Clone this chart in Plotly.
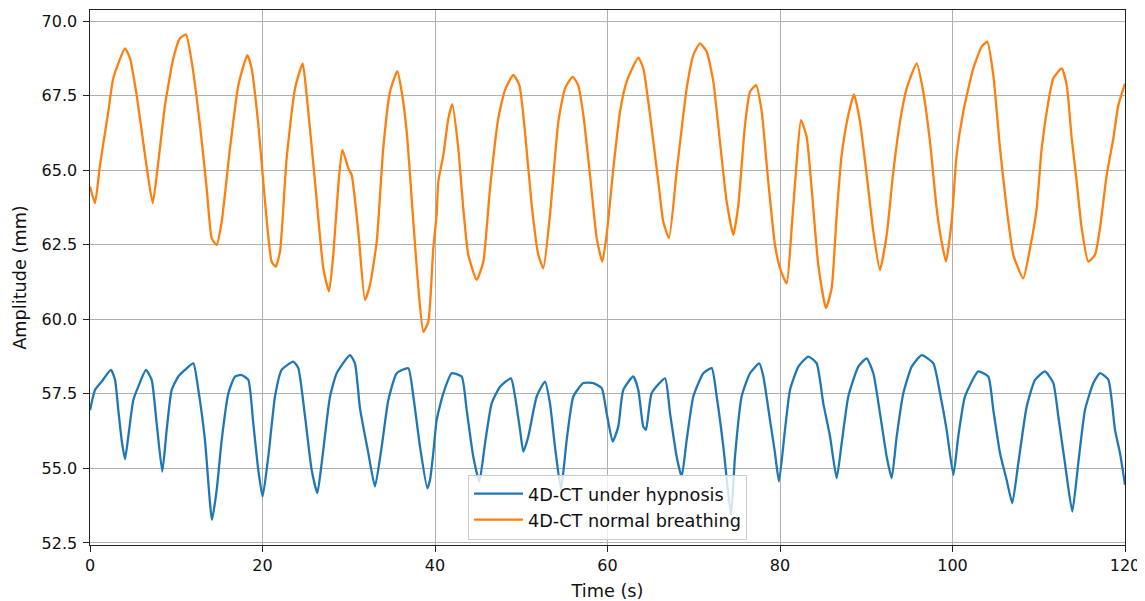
import plotly.graph_objects as go

# 4D-CT under hypnosis (blue) – key points
t_hyp = [0.0, 0.58, 1.35, 2.43, 2.9, 3.28, 3.67, 4.06, 4.44, 5.02, 5.6, 6.49, 7.15, 7.73, 8.38,
         8.89, 9.47, 10.24, 11.01, 11.98, 12.56, 13.33, 14.14, 14.69, 15.27, 16.04, 16.81, 17.59,
         18.35, 18.93, 19.51, 20.01, 20.67, 21.45, 22.22, 23.57, 24.15, 24.93, 25.7, 26.36, 26.86,
         27.83, 28.6, 30.14, 30.72, 31.3, 32.27, 33.04, 33.82, 34.59, 35.56, 36.9, 37.49, 38.26,
         39.11, 39.42, 39.8, 40.19, 40.97, 41.93, 43.09, 43.67, 44.44, 45.14, 45.8, 46.57, 47.54,
         48.81, 49.28, 49.86, 50.24, 50.82, 51.79, 52.75, 53.33, 53.91, 54.61, 55.27, 56.04, 57.2,
         58.36, 59.33, 59.9, 60.6, 61.25, 61.83, 62.99, 63.57, 64.15, 64.46, 65.12, 66.67, 67.25,
         68.02, 68.6, 69.18, 69.95, 71.11, 72.08, 72.66, 73.43, 74.32, 74.78, 75.55, 76.52, 77.6,
         78.07, 78.84, 79.42, 79.88, 80.58, 81.16, 82.13, 83.28, 84.25, 85.02, 85.8, 86.57, 87.15,
         87.92, 89.08, 90.05, 90.82, 91.59, 92.37, 92.95, 93.53, 94.3, 95.27, 96.43, 97.78, 98.55,
         99.32, 100.1, 100.67, 101.45, 102.99, 104.15, 104.73, 105.51, 106.28, 106.93, 107.63,
         108.6, 109.57, 110.72, 111.69, 112.27, 113.04, 113.89, 114.58, 115.36, 116.33, 117.1,
         118.07, 118.84, 119.42, 120.0]
v_hyp = [56.95, 57.63, 57.91, 58.3, 57.97, 56.96, 55.95, 55.31, 56.07, 57.29, 57.74, 58.3, 57.97,
         56.51, 54.89, 56.29, 57.63, 58.08, 58.3, 58.52, 57.63, 55.95, 53.27, 54.28, 55.95, 57.52,
         58.08, 58.13, 57.97, 56.51, 54.95, 54.05, 55.39, 57.41, 58.3, 58.58, 58.36, 56.74, 54.95,
         54.17, 55.17, 57.41, 58.19, 58.8, 58.52, 57.02, 55.51, 54.39, 55.73, 57.29, 58.19, 58.36,
         57.41, 55.73, 54.33, 54.61, 55.51, 56.62, 57.52, 58.19, 58.08, 56.96, 55.39, 54.56, 55.84,
         57.18, 57.74, 58.02, 57.41, 56.29, 55.56, 56.07, 57.41, 57.91, 57.18, 55.73, 54.3, 55.95,
         57.41, 57.86, 57.86, 57.69, 56.85, 55.9, 56.4, 57.63, 58.08, 57.63, 56.4, 56.29, 57.52,
         58.02, 56.85, 55.39, 54.72, 55.95, 57.41, 58.19, 58.36, 57.41, 55.73, 53.44, 55.39, 57.41,
         58.19, 58.52, 58.08, 56.62, 55.51, 54.56, 56.3, 57.63, 58.41, 58.75, 58.52, 57.18, 56.07,
         54.67, 55.84, 57.41, 58.41, 58.69, 58.19, 56.85, 55.39, 54.67, 56.07, 57.52, 58.41, 58.8,
         58.52, 57.52, 56.29, 54.78, 56.07, 57.41, 58.25, 58.08, 56.96, 55.51, 54.61, 53.83, 55.17,
         57.07, 57.97, 58.25, 57.86, 56.74, 55.17, 53.55, 55.17, 56.96, 57.86, 58.19, 57.97, 56.29,
         55.51, 54.45]

# 4D-CT normal breathing (orange) – key points
t_nb = [0.0, 0.58, 1.16, 2.12, 2.7, 4.06, 4.64, 5.41, 6.38, 7.27, 7.92, 8.7, 9.66, 10.43, 11.13,
        11.79, 12.75, 13.53, 14.11, 14.69, 15.27, 16.23, 17.2, 18.24, 18.74, 19.52, 20.29, 21.06,
        21.53, 22.03, 22.8, 23.77, 24.66, 25.12, 26.09, 27.05, 27.71, 28.21, 28.79, 29.26, 29.96,
        30.34, 31.11, 31.88, 32.46, 33.24, 34.0, 34.78, 35.63, 36.14, 36.72, 37.49, 38.07, 38.65,
        39.23, 39.8, 40.19, 40.38, 40.97, 41.55, 42.01, 42.7, 43.28, 43.86, 44.83, 45.6, 46.38,
        47.34, 48.12, 49.08, 49.78, 50.43, 51.21, 51.98, 52.56, 53.33, 54.3, 55.07, 55.96, 56.6,
        57.2, 57.97, 58.75, 59.4, 59.9, 60.68, 61.45, 62.22, 63.57, 64.15, 64.93, 65.89, 66.47,
        67.13, 68.02, 69.18, 69.95, 70.72, 71.5, 72.27, 73.04, 73.82, 74.59, 75.17, 75.94, 76.52,
        77.22, 77.88, 78.64, 79.42, 80.0, 80.77, 81.35, 81.93, 82.43, 83.09, 83.67, 84.44, 85.33,
        85.99, 86.57, 87.15, 87.92, 88.58, 89.28, 90.05, 90.82, 91.59, 92.37, 93.14, 93.91, 94.69,
        95.85, 96.61, 97.39, 98.16, 98.74, 99.24, 99.9, 100.48, 101.25, 102.41, 103.38, 104.03,
        104.73, 105.51, 106.28, 107.05, 108.2, 108.99, 109.76, 110.34, 111.11, 111.69, 112.66,
        113.24, 113.82, 114.4, 114.98, 115.75, 116.52, 117.1, 117.88, 118.65, 119.23, 120.0]
v_nb = [64.45, 63.89, 65.17, 66.96, 68.08, 69.08, 68.75, 67.52, 65.5, 63.89, 65.28, 67.18, 68.75,
        69.42, 69.55, 68.64, 66.51, 64.39, 62.72, 62.49, 63.27, 65.73, 67.85, 68.86, 68.41, 66.51,
        63.94, 61.93, 61.76, 62.27, 65.4, 67.74, 68.58, 67.52, 64.61, 61.71, 60.93, 62.16, 64.5,
        65.68, 65.06, 64.84, 62.94, 60.65, 61.15, 62.6, 65.73, 67.63, 68.32, 67.63, 66.29, 63.27,
        61.04, 59.58, 59.92, 62.38, 63.5, 64.61, 65.51, 66.74, 67.21, 65.73, 63.72, 62.16, 61.32,
        61.93, 64.39, 66.74, 67.69, 68.19, 67.85, 66.29, 63.83, 62.16, 61.71, 63.5, 66.62, 67.74,
        68.13, 67.85, 66.85, 64.84, 62.72, 61.93, 62.83, 65.06, 66.96, 67.97, 68.77, 68.41, 66.85,
        64.61, 63.27, 62.72, 64.95, 67.74, 68.86, 69.25, 68.97, 67.97, 65.95, 63.94, 62.83, 63.83,
        66.51, 67.63, 67.85, 66.96, 64.61, 62.49, 61.71, 61.2, 63.05, 65.28, 66.68, 66.12, 64.39,
        61.82, 60.37, 61.04, 63.5, 65.51, 66.85, 67.54, 66.62, 64.84, 62.94, 61.65, 62.83, 64.95,
        66.62, 67.74, 68.58, 67.63, 65.95, 63.72, 62.6, 61.93, 63.27, 65.51, 66.96, 68.41, 69.14,
        69.31, 68.19, 65.73, 63.72, 62.16, 61.37, 62.38, 63.72, 65.73, 67.29, 68.08, 68.41, 67.85,
        66.07, 64.61, 63.05, 61.93, 62.16, 63.05, 64.84, 66.07, 67.18, 67.9]

x_ticks = [0, 20, 40, 60, 80, 100, 120]
y_ticks = [52.5, 55.0, 57.5, 60.0, 62.5, 65.0, 67.5, 70.0]

FONT = "DejaVu Sans"
FS_TICK = 16
FS_LABEL = 17.7

fig = go.Figure()
fig.add_trace(go.Scatter(x=t_hyp, y=v_hyp, mode="lines", name="4D-CT under hypnosis",
                         line=dict(color="#1f77b4", width=2.3, shape="spline", smoothing=0.5)))
fig.add_trace(go.Scatter(x=t_nb, y=v_nb, mode="lines", name="4D-CT normal breathing",
                         line=dict(color="#ff7f0e", width=2.3, shape="spline", smoothing=0.5)))

axis_common = dict(
    showline=True, linecolor="#222222", linewidth=1.2, mirror=True,
    ticks="outside", ticklen=5.5, tickwidth=1.2, tickcolor="#222222",
    showgrid=True, gridcolor="#b0b0b0", gridwidth=1.2, zeroline=False,
    tickfont=dict(family=FONT, size=FS_TICK, color="#111111"),
)

# the page body has an 8px default margin, so the figure is 8px smaller than the window
fig.update_layout(
    width=1137, height=593,
    margin=dict(l=82, r=20, t=1.5, b=55.5),
    paper_bgcolor="white", plot_bgcolor="white",
    font=dict(family=FONT, size=FS_TICK, color="#111111"),
    xaxis=dict(range=[0, 120], tickvals=x_ticks, ticktext=[str(v) for v in x_ticks],
               title=dict(text="Time (s)", font=dict(family=FONT, size=FS_LABEL), standoff=10),
               **axis_common),
    yaxis=dict(range=[52.43, 70.37], tickvals=y_ticks, ticktext=[f"{v:.1f}" for v in y_ticks],
               ticklabelstandoff=3,
               title=dict(text="Amplitude (mm)", font=dict(family=FONT, size=FS_LABEL), standoff=10),
               **axis_common),
    legend=dict(x=0.5, xanchor="center", y=0.010, yanchor="bottom",
                bgcolor="rgba(255,255,255,0.8)", bordercolor="#cccccc", borderwidth=1,
                font=dict(family=FONT, size=FS_LABEL, color="#111111"),
                itemwidth=49, tracegroupgap=0),
    showlegend=True,
)

fig.write_html("out.html")
